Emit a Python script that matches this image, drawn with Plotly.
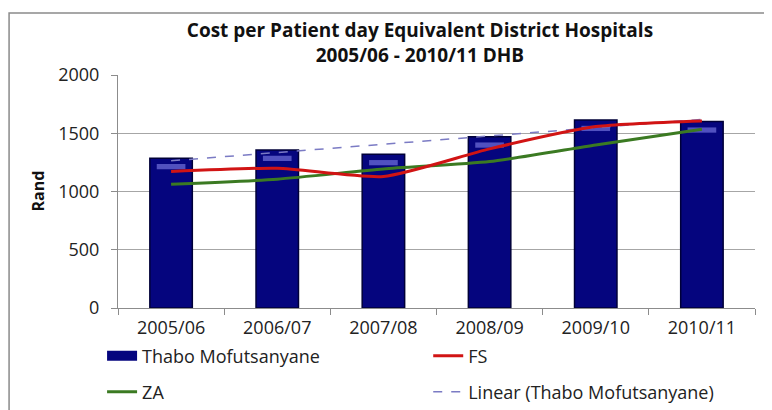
import numpy as np
import plotly.graph_objects as go

# values
years = ["2005/06", "2006/07", "2007/08", "2008/09", "2009/10", "2010/11"]
thabo = [1286, 1357, 1320, 1471, 1614, 1600]
fs = [1171, 1200, 1129, 1366, 1557, 1606]
za = [1063, 1106, 1194, 1257, 1400, 1535]

FONT = "Open Sans"
NAVY = "#05057e"

# Excel-style linear trendline over the Thabo Mofutsanyane bars
xi = np.arange(1, len(thabo) + 1)
slope, intercept = np.polyfit(xi, thabo, 1)
trend = slope * xi + intercept

fig = go.Figure()
fig.add_trace(go.Bar(
    x=years, y=thabo, name="Thabo Mofutsanyane",
    marker=dict(color=NAVY, line=dict(color="#000038", width=1.5)),
    width=0.4, showlegend=False,
))
# glossy highlight just under each bar top (Excel bevel effect)
fig.add_trace(go.Bar(
    x=years, y=[45] * len(thabo), base=[v - 95 for v in thabo],
    marker=dict(color="#6b6bd6", line=dict(width=0)), opacity=0.75,
    width=0.27, showlegend=False, hoverinfo="skip",
))
# legend entry only: Excel shows the bar series as a wide block
fig.add_trace(go.Scatter(
    x=[None], y=[None], name="Thabo Mofutsanyane", mode="lines",
    line=dict(color=NAVY, width=10), legend="legend",
))
fig.add_trace(go.Scatter(
    x=years, y=trend, name="Linear (Thabo Mofutsanyane)", mode="lines",
    line=dict(color="#7b7bc4", width=1.5, dash="dash"), legend="legend4",
))
fig.add_trace(go.Scatter(
    x=years, y=za, name="ZA", mode="lines",
    line=dict(color="#3b7a22", width=3, shape="spline", smoothing=0.6),
    legend="legend3",
))
fig.add_trace(go.Scatter(
    x=years, y=fs, name="FS", mode="lines",
    line=dict(color="#d11414", width=3, shape="spline", smoothing=0.6),
    legend="legend2",
))


def legend_at(x, y):
    return dict(
        x=x, y=y, orientation="h", xanchor="left", yanchor="middle",
        font=dict(family=FONT, size=18, color="#222"),
        bgcolor="rgba(0,0,0,0)",
    )


# the page body adds an 8px offset, so the figure is 8px smaller than the window
fig.update_layout(
    width=764, height=402,
    margin=dict(l=110, r=17, t=67, b=102, autoexpand=False),
    paper_bgcolor="white", plot_bgcolor="white",
    font=dict(family=FONT, size=16, color="#222"),
    title=dict(
        text="<b>Cost per Patient day Equivalent District Hospitals<br>2005/06 - 2010/11 DHB</b>",
        x=0.474, xref="paper", xanchor="center", y=0.928, yanchor="top",
        font=dict(family=FONT, size=19, color="#111"),
    ),
    barmode="overlay",
    showlegend=True,
    legend=legend_at(-0.025, -0.206),
    legend2=legend_at(0.487, -0.206),
    legend3=legend_at(-0.025, -0.361),
    legend4=legend_at(0.487, -0.361),
    xaxis=dict(
        showgrid=False, showline=True, linecolor="#8c8c8c", linewidth=1,
        ticks="outside", tickson="boundaries", ticklen=6, tickcolor="#8c8c8c",
        tickfont=dict(family=FONT, size=18, color="#222"),
        ticklabelstandoff=3,
    ),
    yaxis=dict(
        range=[0, 2000], dtick=500, showgrid=True, gridcolor="#a6a6a6", gridwidth=1,
        showline=True, linecolor="#8c8c8c", linewidth=1,
        ticks="outside", ticklen=6, tickcolor="#8c8c8c",
        tickfont=dict(family=FONT, size=18, color="#222"),
        ticklabelstandoff=8, zeroline=False,
    ),
    annotations=[dict(
        text="<b>Rand</b>", textangle=-90, x=-0.127, y=0.5,
        xref="paper", yref="paper", xanchor="center", yanchor="middle",
        showarrow=False, font=dict(family=FONT, size=16, color="#111"),
    )],
    shapes=[dict(
        type="rect", xref="paper", yref="paper",
        x0=-0.171, x1=1.05, y0=-0.5, y1=1.266,
        line=dict(color="#8a8a8a", width=1.5), fillcolor="rgba(0,0,0,0)", layer="below",
    )],
)

fig.write_html("out.html")
